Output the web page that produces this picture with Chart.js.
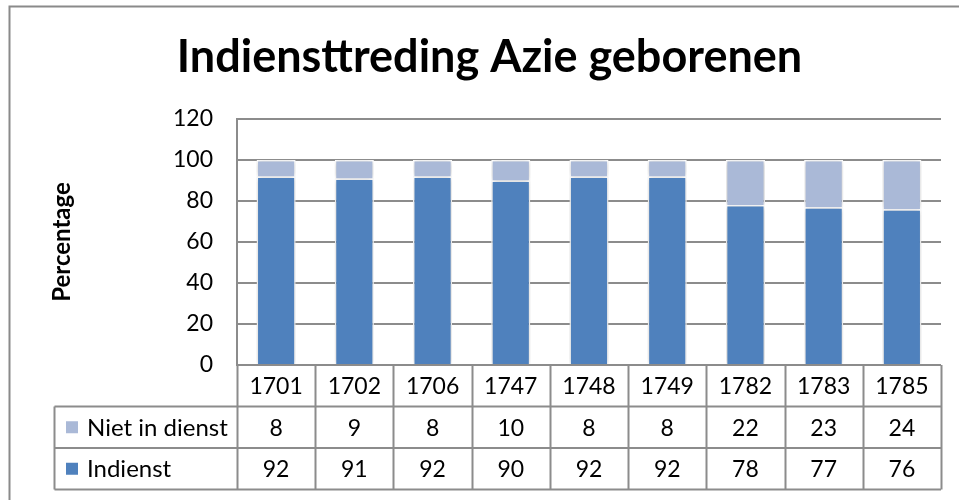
<!DOCTYPE html>
<html>
<head>
<meta charset="utf-8">
<script src="https://cdn.jsdelivr.net/npm/chart.js@4/dist/chart.umd.min.js"></script>
<style>
  html, body { margin: 0; padding: 0; background: #fff; }
  #wrap { width: 959px; height: 500px; }
</style>
</head>
<body>
<div id="wrap"><canvas id="myChart" width="959" height="500"></canvas></div>
<script>
// data
const years = ["1701", "1702", "1706", "1747", "1748", "1749", "1782", "1783", "1785"];
const indienst = [92, 91, 92, 90, 92, 92, 78, 77, 76];
const nietInDienst = [8, 9, 8, 10, 8, 8, 22, 23, 24];
const yTicks = [0, 20, 40, 60, 80, 100, 120];

const FONT = "Lato, 'Open Sans', sans-serif";
const DARK = "#4f81bd";
const LIGHT = "#aab9d7";
const LINE = "#8c8c8c";

// outer frame of the excel chart object
const framePlugin = {
    id: 'frame',
    beforeDraw(chart) {
        const ctx = chart.ctx;
        ctx.save();
        ctx.strokeStyle = "#8a8a8a";
        ctx.lineWidth = 2;
        ctx.beginPath();
        ctx.moveTo(9.5, 500);
        ctx.lineTo(9.5, 6.5);
        ctx.lineTo(959, 6.5);
        ctx.stroke();
        ctx.restore();
    }
};

// soft shadow under the bars
const shadowPlugin = {
    id: 'barShadow',
    beforeDatasetsDraw(chart) {
        const ctx = chart.ctx;
        ctx.save();
        ctx.shadowColor = "rgba(0,0,0,0.25)";
        ctx.shadowBlur = 5;
        ctx.shadowOffsetX = 0;
        ctx.shadowOffsetY = 0;
    },
    afterDatasetsDraw(chart) {
        chart.ctx.restore();
    }
};

// data table below the plot (years row + one row per series)
const tablePlugin = {
    id: 'dataTable',
    afterDraw(chart) {
        const ctx = chart.ctx;
        const a = chart.chartArea;
        const x = chart.scales.x;
        const rowH = 41.5;
        const top = a.bottom;
        const legLeft = 54.5;
        const bottom = top + rowH * 3;

        // column edges
        const edges = [a.left];
        for (let i = 1; i < years.length; i++) {
            edges.push((x.getPixelForValue(i - 1) + x.getPixelForValue(i)) / 2);
        }
        edges.push(a.right);

        ctx.save();
        ctx.strokeStyle = LINE;
        ctx.lineWidth = 2;
        ctx.beginPath();
        // horizontal lines
        ctx.moveTo(a.left, top);
        ctx.lineTo(a.right, top);
        for (let r = 1; r <= 3; r++) {
            ctx.moveTo(legLeft, top + rowH * r);
            ctx.lineTo(a.right, top + rowH * r);
        }
        // vertical lines
        edges.forEach(e => {
            const ex = Math.round(e) + 0.5;
            ctx.moveTo(ex, top);
            ctx.lineTo(ex, bottom);
        });
        ctx.moveTo(legLeft, top + rowH);
        ctx.lineTo(legLeft, bottom);
        ctx.stroke();

        ctx.fillStyle = "#000";
        ctx.font = "23px " + FONT;
        ctx.textAlign = "center";
        ctx.textBaseline = "middle";
        const rows = [years, nietInDienst, indienst];
        rows.forEach((vals, r) => {
            const cy = top + rowH * r + rowH / 2 + 1;
            vals.forEach((v, i) => {
                ctx.fillText(String(v), x.getPixelForValue(i), cy);
            });
        });

        // legend keys in the first column
        const keys = [["Niet in dienst", LIGHT], ["Indienst", DARK]];
        ctx.font = "24px " + FONT;
        keys.forEach((k, j) => {
            const cy = top + rowH * (j + 1) + rowH / 2;
            ctx.fillStyle = k[1];
            ctx.fillRect(66, cy - 6, 12, 12);
            ctx.fillStyle = "#000";
            ctx.textAlign = "left";
            ctx.fillText(k[0], 87, cy + 1);
        });
        ctx.restore();
    }
};

const ctx = document.getElementById("myChart").getContext("2d");
const chart = new Chart(ctx, {
    type: "bar",
    data: {
        labels: years,
        datasets: [
            {
                label: "Indienst",
                data: indienst,
                backgroundColor: DARK,
                borderColor: "#ffffff",
                borderWidth: 1.5,
                categoryPercentage: 1,
                barPercentage: 0.5
            },
            {
                label: "Niet in dienst",
                data: nietInDienst,
                backgroundColor: LIGHT,
                borderColor: "#ffffff",
                borderWidth: 1.5,
                categoryPercentage: 1,
                barPercentage: 0.5
            }
        ]
    },
    options: {
        responsive: false,
        animation: false,
        layout: {
            padding: { left: 20, right: 0, top: 0, bottom: 135 }
        },
        plugins: {
            legend: { display: false },
            tooltip: { enabled: false },
            title: {
                display: true,
                text: "Indiensttreding Azie geborenen",
                color: "#000",
                font: { family: FONT, size: 45, weight: "bold", lineHeight: 1.2 },
                padding: { top: 30, bottom: 35 }
            }
        },
        scales: {
            x: {
                display: false,
                stacked: true,
                offset: true
            },
            y: {
                stacked: true,
                min: 0,
                max: 120,
                afterFit: (scale) => { scale.width = 217; },
                afterBuildTicks: (scale) => { scale.ticks = yTicks.map(v => ({ value: v })); },
                border: { display: true, color: LINE, width: 2 },
                grid: { color: LINE, lineWidth: 2, drawTicks: false },
                ticks: {
                    color: "#000",
                    padding: 24,
                    font: { family: FONT, size: 23 }
                },
                title: {
                    display: true,
                    text: "Percentage",
                    color: "#000",
                    font: { family: FONT, size: 24, weight: "bold", lineHeight: 1.2 },
                    padding: { top: 28, bottom: 0 }
                }
            },
            // empty right-hand strip so the plot stops short of the edge
            yRight: {
                position: "right",
                min: 0,
                max: 120,
                afterFit: (scale) => { scale.width = 18; },
                border: { display: false },
                grid: { display: false, drawTicks: false },
                ticks: { display: false }
            }
        }
    },
    plugins: [framePlugin, shadowPlugin, tablePlugin]
});
</script>
</body>
</html>
